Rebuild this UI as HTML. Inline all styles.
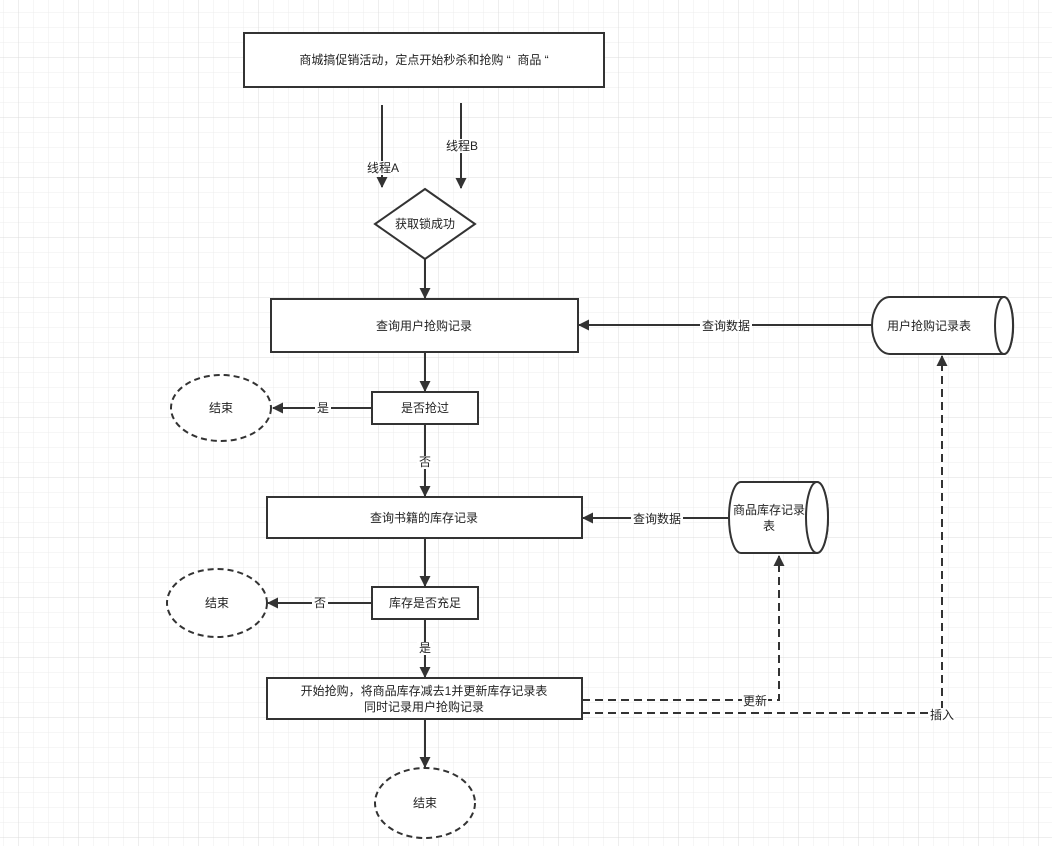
<!DOCTYPE html>
<html><head><meta charset="utf-8"><style>
html,body{margin:0;padding:0;background:#fff}
svg{display:block}
text{font-family:"Liberation Sans","Noto Sans CJK SC",sans-serif;font-size:12px;fill:#222}
</style></head><body>
<svg width="1052" height="846" viewBox="0 0 1052 846" xmlns="http://www.w3.org/2000/svg">
<defs>
<pattern id="g" x="3" y="12" width="15" height="15" patternUnits="userSpaceOnUse">
<path d="M0 0H15M0 0V15" stroke="#ececec" stroke-width="1" fill="none"/>
</pattern>
<pattern id="G" x="18" y="57" width="60" height="60" patternUnits="userSpaceOnUse">
<path d="M0 0H60M0 0V60" stroke="#dcdcdc" stroke-width="1" fill="none"/>
</pattern>
<marker id="a" markerWidth="11" markerHeight="11" refX="10" refY="5.5" orient="auto" markerUnits="userSpaceOnUse">
<path d="M0 0L11 5.5L0 11Z" fill="#333"/>
</marker>
</defs>
<rect width="1052" height="846" fill="url(#g)"/>
<rect width="1052" height="846" fill="url(#G)"/>
<g stroke="#333" stroke-width="2" fill="#fff">
<rect x="244" y="33" width="360" height="54"/>
<path d="M425 189L475 224L425 259L375 224Z"/>
<rect x="271" y="299" width="307" height="53"/>
<rect x="372" y="392" width="106" height="32"/>
<rect x="267" y="497" width="315" height="41"/>
<rect x="372" y="587" width="106" height="32"/>
<rect x="267" y="678" width="315" height="41"/>
<path d="M890 297H1004A9 28 0 0 1 1004 354H890A18 28.5 0 0 1 890 297Z"/>
<ellipse cx="1004" cy="325.5" rx="9" ry="28.5"/>
<path d="M741 482H817A11 35.5 0 0 1 817 553H741A12 35.5 0 0 1 741 482Z"/>
<ellipse cx="817" cy="517.5" rx="11" ry="35.5"/>
<g stroke-dasharray="6 4">
<ellipse cx="221" cy="408" rx="50" ry="33"/>
<ellipse cx="217" cy="603" rx="50" ry="34"/>
<ellipse cx="425" cy="803" rx="50" ry="35"/>
</g>
</g>
<g stroke="#333" stroke-width="2" fill="none" marker-end="url(#a)">
<path d="M382 105V187"/>
<path d="M461 103V188"/>
<path d="M425 259V298"/>
<path d="M872 325H579"/>
<path d="M425 352V391"/>
<path d="M372 408H273"/>
<path d="M425 424V496"/>
<path d="M730 518H583"/>
<path d="M425 538V586"/>
<path d="M372 603H268"/>
<path d="M425 619V677"/>
<path d="M425 719V767"/>
<g stroke-dasharray="8 5">
<path d="M582 700H779V556"/>
<path d="M582 713H942V356"/>
</g>
</g>
<g text-anchor="middle" dominant-baseline="central">
<rect x="364" y="161" width="38" height="14" fill="#fff"/>
<text x="383" y="168">线程A</text>
<rect x="444" y="139" width="36" height="14" fill="#fff"/>
<text x="462" y="146">线程B</text>
<rect x="700" y="319" width="52" height="13" fill="#fff"/>
<text x="726" y="326">查询数据</text>
<rect x="315" y="402" width="16" height="13" fill="#fff"/>
<text x="323" y="408">是</text>
<rect x="417" y="456" width="16" height="13" fill="#fff"/>
<text x="425" y="462">否</text>
<rect x="631" y="512" width="52" height="13" fill="#fff"/>
<text x="657" y="519">查询数据</text>
<rect x="312" y="597" width="16" height="13" fill="#fff"/>
<text x="320" y="603">否</text>
<rect x="417" y="642" width="16" height="13" fill="#fff"/>
<text x="425" y="648">是</text>
<rect x="742" y="694" width="26" height="13" fill="#fff"/>
<text x="755" y="701">更新</text>
<rect x="929" y="708" width="26" height="13" fill="#fff"/>
<text x="942" y="715">插入</text>
<text x="424" y="60" xml:space="preserve">商城搞促销活动，定点开始秒杀和抢购 “  商品 “</text>
<text x="425" y="224">获取锁成功</text>
<text x="424" y="326">查询用户抢购记录</text>
<text x="425" y="408">是否抢过</text>
<text x="424" y="518">查询书籍的库存记录</text>
<text x="425" y="603">库存是否充足</text>
<text x="424" y="691">开始抢购，将商品库存减去1并更新库存记录表</text>
<text x="424" y="707">同时记录用户抢购记录</text>
<text x="929" y="326">用户抢购记录表</text>
<text x="769" y="510">商品库存记录</text>
<text x="769" y="526">表</text>
<text x="221" y="408">结束</text>
<text x="217" y="603">结束</text>
<text x="425" y="803">结束</text>
</g>
</svg>
</body></html>
